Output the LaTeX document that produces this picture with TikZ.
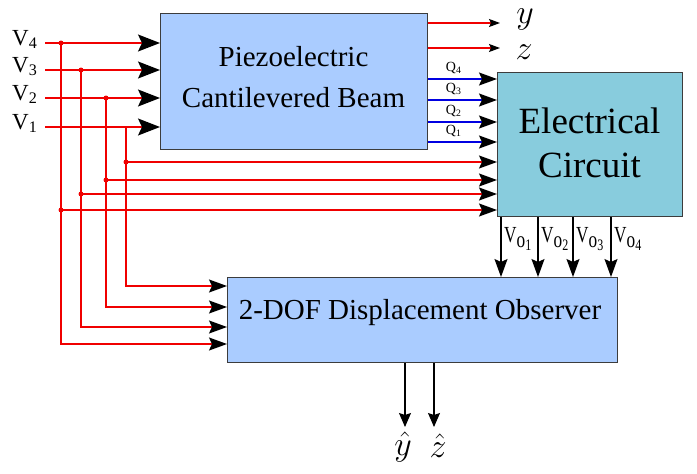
\RequirePackage{fix-cm}
\documentclass[tikz,border=0pt]{standalone}
\usepackage{fontspec}
\setmainfont{Liberation Serif}
\usetikzlibrary{arrows.meta}
\definecolor{piezo}{RGB}{170,204,255}
\definecolor{elecc}{RGB}{136,204,221}
\definecolor{edge}{RGB}{60,60,60}
\definecolor{qblue}{RGB}{0,0,225}
\definecolor{sred}{RGB}{240,0,0}
\newcommand{\volab}[1]{\scalebox{0.75}[1]{V\raisebox{-5pt}{o\raisebox{-3pt}{\fontsize{16}{16}\selectfont #1}}}}
\begin{document}
\begin{tikzpicture}[x=1pt,y=-1pt,
  blk/.style={draw=edge,line width=1.3pt,inner sep=0pt,anchor=north west},
  sig/.style={draw=sred,line width=1.3pt},
  thinsig/.style={draw=sred,line width=1.1pt},
  qsig/.style={draw=qblue,line width=1.3pt},
  ksig/.style={draw=black,line width=1.2pt},
  tipA/.style={-{Stealth[length=22pt,width=17pt,inset=4pt,color=black,fill=black]}},
  tipB/.style={-{Stealth[length=18pt,width=13pt,inset=3pt,color=black,fill=black]}},
  tipC/.style={-{Stealth[length=14pt,width=12pt,inset=2pt,color=black,fill=black]}},
  tipD/.style={-{Stealth[length=11pt,width=8pt,inset=2pt,color=black,fill=black]}},
  jdot/.style={circle,fill=sred,inner sep=0pt,minimum size=5pt},
  mlab/.style={font=\fontsize{34}{34}\selectfont,inner sep=0pt}
]
\useasboundingbox (0,0) rectangle (697,474);
% boxes
\node[blk,fill=piezo,minimum width=267pt,minimum height=136pt] (beam) at (160,13) {};
\node[font=\fontsize{29}{41}\selectfont,align=center] (beamtxt) at (293.5,77) {Piezoelectric\\Cantilevered Beam};
\node[blk,fill=elecc,minimum width=185pt,minimum height=144pt] (elec) at (497,72) {};
\node[font=\fontsize{37}{44}\selectfont,align=center] (electxt) at (589.5,143) {Electrical\\Circuit};
\node[blk,fill=piezo,minimum width=390pt,minimum height=85pt] (obs) at (227,277) {};
\node[font=\fontsize{29}{29}\selectfont] (obstxt) at (420,313) {2-DOF Displacement Observer};
% inputs
\foreach \i/\yy in {4/43,3/70,2/98,1/127} {
  \node[font=\fontsize{23}{23}\selectfont,anchor=base west,inner sep=0pt] (lab\i) at (12,\yy+2) {V\textsubscript{\i}};
  \coordinate (s\i) at (45,\yy);
  \draw[sig,tipA] (s\i) -- (beam.west |- s\i);
}
% taps
\node[jdot] (d4) at (61,43) {};
\node[jdot] (d3) at (81,70) {};
\node[jdot] (d2) at (106,98) {};
\coordinate (d1) at (126,127);
\node[jdot] (e1) at (126,162) {};
\node[jdot] (e2) at (106,180) {};
\node[jdot] (e3) at (81,194) {};
\node[jdot] (e4) at (61,210) {};
% to observer
\draw[sig,tipB] (d1) |- (obs.west |- 0,286);
\draw[sig,tipB] (d2.center) |- (obs.west |- 0,307);
\draw[sig,tipB] (d3.center) |- (obs.west |- 0,327);
\draw[sig,tipB] (d4.center) |- (obs.west |- 0,344);
% to electrical circuit
\foreach \k in {1,2,3,4} \draw[sig,tipB] (e\k.center) -- (elec.west |- e\k);
% charges
\foreach \i/\yy in {4/79,3/100,2/122,1/142}
  \draw[qsig,tipB] (beam.east |- 0,\yy) -- (elec.west |- 0,\yy)
    node[pos=0.37,anchor=base,yshift=8pt,font=\fontsize{14}{14}\selectfont,inner sep=0pt] (q\i) {Q\textsubscript{\i}};
% outputs y, z
\coordinate (yend) at (500,23);
\coordinate (zend) at (500,48);
\draw[thinsig,tipD] (beam.east |- yend) -- (yend);
\draw[thinsig,tipD] (beam.east |- zend) -- (zend);
\node[mlab] (yout) at (525,19) {$y$};
\node[mlab] (zout) at (524,52) {$z$};
% Vo
\foreach \i/\xx in {1/501,2/538,3/573,4/611} {
  \draw[ksig,tipB] (elec.south -| \xx,0) -- (obs.north -| \xx,0);
  \node[font=\fontsize{23}{23}\selectfont,anchor=base west,inner sep=0pt] (vo\i) at (\xx+3,242) {\volab{\i}};
}
% estimates
\node[mlab] (yhat) at (403,447) {$\hat{y}$};
\node[mlab] (zhat) at (438,446) {$\hat{z}$};
\coordinate (yh) at (405,427);
\coordinate (zh) at (434,427);
\draw[ksig,tipC] (obs.south -| yh) -- (yh);
\draw[ksig,tipC] (obs.south -| zh) -- (zh);
\end{tikzpicture}
\end{document}
